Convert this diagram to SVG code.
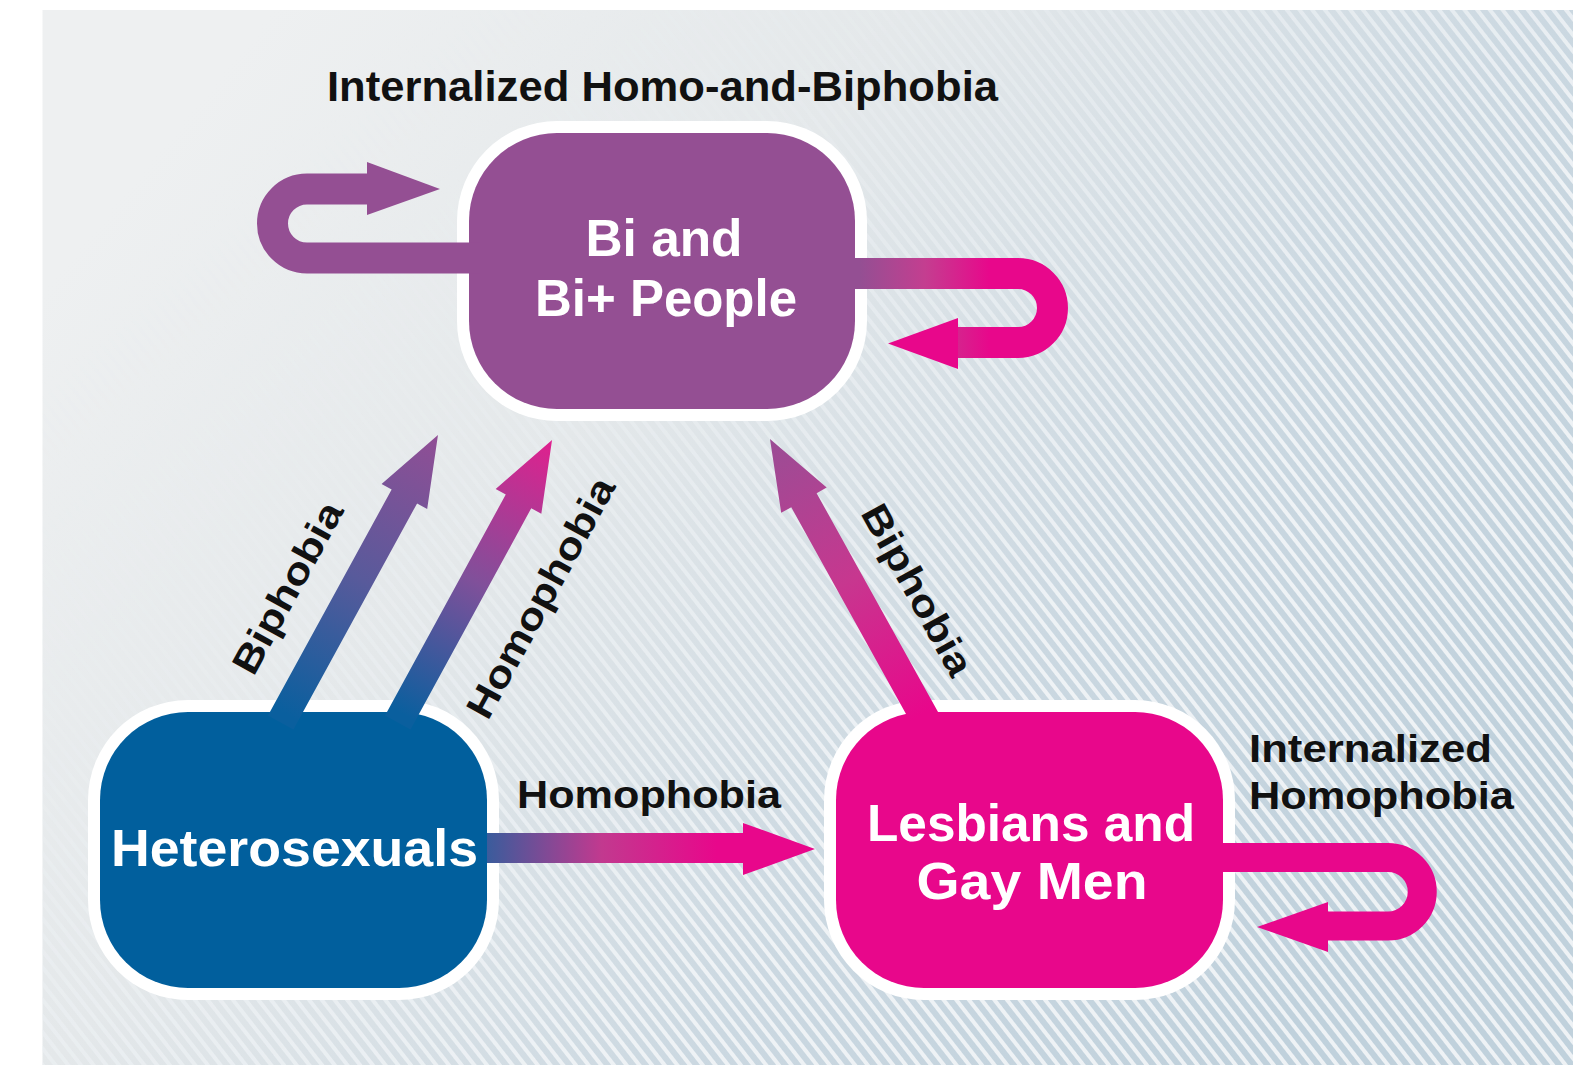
<svg xmlns="http://www.w3.org/2000/svg" width="1588" height="1065" viewBox="0 0 1588 1065">
  <defs>
    <style>
      .lbl { font-family: "Liberation Sans", Arial, sans-serif; font-weight: bold; fill: #111111; }
      .ntxt { font-family: "Liberation Sans", Arial, sans-serif; font-weight: bold; fill: #ffffff; font-size: 52px; text-anchor: middle; }
      .border { fill: #ffffff; }
    </style>
    <linearGradient id="bgGrad" gradientUnits="userSpaceOnUse" x1="200" y1="100" x2="1300" y2="1000">
      <stop offset="0" stop-color="#eef0f1"/>
      <stop offset="0.35" stop-color="#e4e8ea"/>
      <stop offset="0.7" stop-color="#cbd8e1"/>
      <stop offset="1" stop-color="#c0d1dc"/>
    </linearGradient>
    <linearGradient id="maskGrad" gradientUnits="userSpaceOnUse" x1="250" y1="150" x2="950" y2="950">
      <stop offset="0" stop-color="#000000"/>
      <stop offset="0.3" stop-color="#303030"/>
      <stop offset="0.6" stop-color="#b0b0b0"/>
      <stop offset="0.85" stop-color="#ffffff"/>
    </linearGradient>
    <pattern id="stripes" patternUnits="userSpaceOnUse" width="10" height="10" patternTransform="rotate(52)">
      <rect x="0" y="0" width="10" height="4" fill="#eef2f5"/>
    </pattern>
    <mask id="stripeMask">
      <rect x="0" y="0" width="1588" height="1065" fill="url(#maskGrad)"/>
    </mask>
    <linearGradient id="gA" x1="0" y1="0" x2="1" y2="0">
      <stop offset="0.03" stop-color="#0a5f9e"/>
      <stop offset="0.5" stop-color="#585a9b"/>
      <stop offset="1" stop-color="#914e95"/>
    </linearGradient>
    <linearGradient id="gB" x1="0" y1="0" x2="1" y2="0">
      <stop offset="0.03" stop-color="#0a5f9e"/>
      <stop offset="0.5" stop-color="#80509a"/>
      <stop offset="1" stop-color="#e0208e"/>
    </linearGradient>
    <linearGradient id="gC" x1="0" y1="0" x2="1" y2="0">
      <stop offset="0.03" stop-color="#e8078b"/>
      <stop offset="0.5" stop-color="#c7378f"/>
      <stop offset="1" stop-color="#9a4d95"/>
    </linearGradient>
    <linearGradient id="gD" gradientUnits="userSpaceOnUse" x1="487" y1="0" x2="815" y2="0">
      <stop offset="0" stop-color="#3a5c9c"/>
      <stop offset="0.35" stop-color="#c2398f"/>
      <stop offset="0.7" stop-color="#e8078b"/>
      <stop offset="1" stop-color="#e8078b"/>
    </linearGradient>
    <linearGradient id="gR" gradientUnits="userSpaceOnUse" x1="860" y1="0" x2="990" y2="0">
      <stop offset="0" stop-color="#944f93"/>
      <stop offset="0.5" stop-color="#c43e90"/>
      <stop offset="1" stop-color="#e8078b"/>
    </linearGradient>
  </defs>

  <rect x="0" y="0" width="1588" height="1065" fill="#ffffff"/>
  <g id="background">
    <rect x="42.5" y="10" width="1530.5" height="1055" fill="url(#bgGrad)"/>
    <rect x="42.5" y="10" width="1530.5" height="1055" fill="url(#stripes)" mask="url(#stripeMask)"/>
  </g>

  <g id="node-bi">
    <rect class="border" x="457" y="121" width="410" height="300" rx="100"/>
    <rect x="469" y="133" width="386" height="276" rx="88" fill="#944f93"/>
    <text class="ntxt" x="664" y="256" textLength="157" lengthAdjust="spacingAndGlyphs">Bi and</text>
    <text class="ntxt" x="666" y="316" textLength="262" lengthAdjust="spacingAndGlyphs">Bi+ People</text>
  </g>

  <g id="node-hetero">
    <rect class="border" x="88" y="700" width="411" height="300" rx="100"/>
    <rect x="100" y="712" width="387" height="276" rx="88" fill="#015f9d"/>
    <text class="ntxt" x="294.5" y="866" textLength="367" lengthAdjust="spacingAndGlyphs">Heterosexuals</text>
  </g>

  <g id="node-lesbian">
    <rect class="border" x="824" y="700" width="411" height="300" rx="100"/>
    <rect x="836" y="712" width="387" height="276" rx="88" fill="#e8078b"/>
    <text class="ntxt" x="1031" y="841" textLength="328" lengthAdjust="spacingAndGlyphs">Lesbians and</text>
    <text class="ntxt" x="1032" y="899" textLength="231" lengthAdjust="spacingAndGlyphs">Gay Men</text>
  </g>

  <g id="connectors">
    <!-- Heterosexuals to Bi: Biphobia -->
    <polygon transform="translate(280.7,722.5) rotate(-61.32)" points="0,-14.5 257.7,-14.5 257.7,-26 327.7,0 257.7,26 257.7,14.5 0,14.5" fill="url(#gA)"/>
    <!-- Heterosexuals to Bi: Homophobia -->
    <polygon transform="translate(397.8,722.5) rotate(-61.37)" points="0,-14.5 251.9,-14.5 251.9,-26 321.9,0 251.9,26 251.9,14.5 0,14.5" fill="url(#gB)"/>
    <!-- Lesbians to Bi: Biphobia -->
    <polygon transform="translate(927.3,722.5) rotate(-119.03)" points="0,-14.5 254.2,-14.5 254.2,-26 324.2,0 254.2,26 254.2,14.5 0,14.5" fill="url(#gC)"/>
    <!-- Heterosexuals to Lesbians: Homophobia -->
    <polygon points="487,833 743,833 743,823 815,849 743,875 743,863 487,863" fill="url(#gD)"/>
    <!-- Bi self loop left -->
    <path d="M 480 258 L 307 258 A 34.5 34.5 0 0 1 307 189 L 370 189" fill="none" stroke="#944f93" stroke-width="31"/>
    <polygon points="367,162 440,189 367,215" fill="#944f93"/>
    <!-- Bi self loop right -->
    <path d="M 845 273.5 L 1018 273.5 A 34.5 34.5 0 0 1 1018 342.5 L 955 342.5" fill="none" stroke="url(#gR)" stroke-width="31"/>
    <polygon points="958,318 888,343.5 958,369" fill="#e8078b"/>
    <!-- Lesbian self loop -->
    <path d="M 1215 857.5 L 1388 857.5 A 34.25 34.25 0 0 1 1388 926 L 1325 926" fill="none" stroke="#e8078b" stroke-width="29"/>
    <polygon points="1328,902 1257,927 1328,952" fill="#e8078b"/>
  </g>

  <g id="labels">
    <text class="lbl" x="662.5" y="101" font-size="43" text-anchor="middle" textLength="671" lengthAdjust="spacingAndGlyphs">Internalized Homo-and-Biphobia</text>
    <text class="lbl" x="649" y="808" font-size="38" text-anchor="middle" textLength="264" lengthAdjust="spacingAndGlyphs">Homophobia</text>
    <text class="lbl" x="1249" y="762" font-size="38" textLength="243" lengthAdjust="spacingAndGlyphs">Internalized</text>
    <text class="lbl" x="1249" y="809" font-size="38" textLength="265" lengthAdjust="spacingAndGlyphs">Homophobia</text>
    <text class="lbl" transform="translate(299,594) rotate(-61.3)" font-size="38" text-anchor="middle" textLength="190" lengthAdjust="spacingAndGlyphs">Biphobia</text>
    <text class="lbl" transform="translate(552,604) rotate(-61.3)" font-size="38" text-anchor="middle" textLength="268" lengthAdjust="spacingAndGlyphs">Homophobia</text>
    <text class="lbl" transform="translate(906,596) rotate(61)" font-size="38" text-anchor="middle" textLength="190" lengthAdjust="spacingAndGlyphs">Biphobia</text>
  </g>
</svg>
